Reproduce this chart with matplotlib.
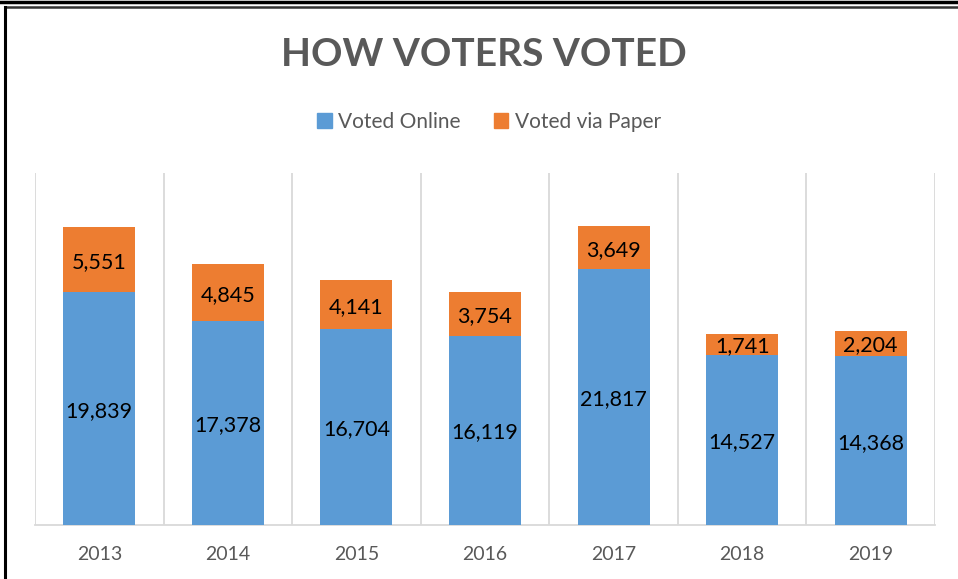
import matplotlib
matplotlib.use("Agg")
import matplotlib.pyplot as plt
from matplotlib.lines import Line2D
from matplotlib.patches import Patch
import numpy as np

years = ["2013", "2014", "2015", "2016", "2017", "2018", "2019"]
online = [19839, 17378, 16704, 16119, 21817, 14527, 14368]
paper = [5551, 4845, 4141, 3754, 3649, 1741, 2204]
series_names = ["Voted Online", "Voted via Paper"]

W, H = 958, 579
fig = plt.figure(figsize=(W / 100, H / 100), dpi=100)
font = "Lato"
gray = "#595959"
blue = "#5B9BD5"
orange = "#ED7D31"

ax = fig.add_axes([35 / W, 1 - 525 / H, (935 - 35) / W, (525 - 173) / H])
x = np.arange(len(years))
bw = 0.56
ax.bar(x, online, bw, color=blue, label=series_names[0], zorder=3)
ax.bar(x, paper, bw, bottom=online, color=orange, label=series_names[1], zorder=3)

for xi, o, p in zip(x, online, paper):
    ax.text(xi, o / 2, f"{o:,}", ha="center", va="center_baseline", fontsize=15.5, family=font, color="black", zorder=4)
    ax.text(xi, o + p / 2, f"{p:,}", ha="center", va="center_baseline", fontsize=15.5, family=font, color="black", zorder=4)

ax.set_xlim(-0.5, len(years) - 0.5)
ax.set_ylim(0, 30000)
ax.set_yticks([])
for b in np.arange(-0.5, len(years), 1.0):
    ax.axvline(b, color="#D9D9D9", lw=1.3, zorder=1)
for s in ["top", "right", "left"]:
    ax.spines[s].set_visible(False)
ax.spines["bottom"].set_color("#D9D9D9")
ax.spines["bottom"].set_linewidth(1.3)
ax.set_xticks(x)
ax.set_xticklabels(years, fontsize=14, family=font, color=gray)
ax.tick_params(axis="x", length=0, pad=15)

fig.text(484 / W, 1 - 55 / H, "HOW VOTERS VOTED", ha="center", va="center",
         fontsize=28, fontweight="bold", family=font, color=gray)

handles = [Patch(color=blue), Patch(color=orange)]
leg = fig.legend(handles, series_names, loc="center", bbox_to_anchor=(489 / W, 1 - 122 / H),
                 ncol=2, frameon=False, prop={"family": font, "size": 15},
                 handlelength=0.7, handleheight=0.7, handletextpad=0.3, columnspacing=1.6)
for t in leg.get_texts():
    t.set_color(gray)

# borders
fig.add_artist(Line2D([0, 1], [1 - 2 / H, 1 - 2 / H], color="black", lw=2.5, transform=fig.transFigure))
fig.add_artist(Line2D([5 / W, 1], [1 - 7 / H, 1 - 7 / H], color="#333333", lw=1.8, transform=fig.transFigure))
fig.add_artist(Line2D([5 / W, 5 / W], [1 - 7 / H, 0], color="black", lw=2.2, transform=fig.transFigure))

fig.savefig("out.png", dpi=100)
